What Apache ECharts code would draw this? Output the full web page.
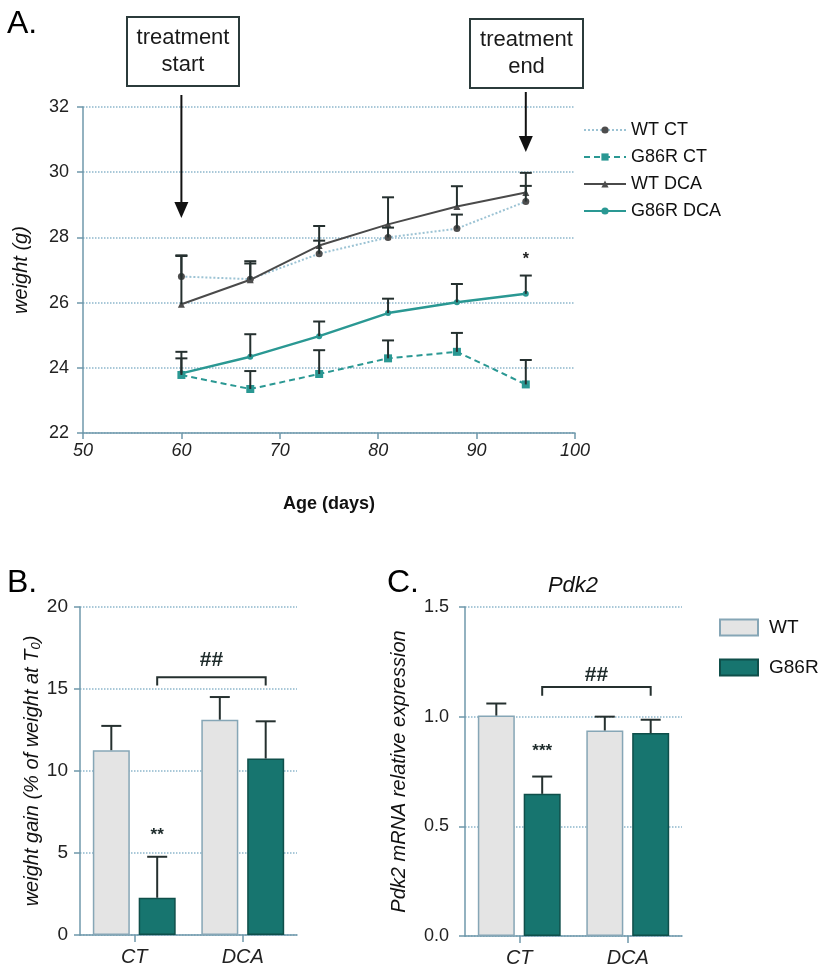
<!DOCTYPE html>
<html><head><meta charset="utf-8">
<script src="https://cdn.jsdelivr.net/npm/echarts@6/dist/echarts.min.js"></script>
<style>html,body{margin:0;padding:0;background:#fff}#c{width:824px;height:976px}</style>
</head><body><div id="c"></div>
<script>
// ---- Panel A data ----
const days = [60, 67, 74, 81, 88, 95];
const wtCT = [26.8, 26.72, 27.5, 28.0, 28.27, 29.1];
const wtCTErr = [0.65, 0.55, 0.4, 0.3, 0.43, 0.48];
const g86rCT = [23.78, 23.35, 23.81, 24.29, 24.49, 23.49];
const g86rCTErr = [0.51, 0.55, 0.73, 0.55, 0.58, 0.75];
const wtDCA = [25.95, 26.7, 27.75, 28.4, 28.95, 29.38];
const wtDCAErr = [1.48, 0.5, 0.6, 0.83, 0.62, 0.6];
const g86rDCA = [23.83, 24.34, 24.97, 25.68, 26.01, 26.27];
const g86rDCAErr = [0.66, 0.69, 0.45, 0.44, 0.56, 0.56];
const xTicksA = [50, 100, 10];
const yTicksA = [22, 32, 2];

// ---- Panel B data ----
const groups = ['CT', 'DCA'];
const wtGain = [11.27, 13.13];
const wtGainErr = [1.48, 1.38];
const g86rGain = [2.27, 10.76];
const g86rGainErr = [2.5, 2.27];

// ---- Panel C data ----
const wtPdk2 = [1.005, 0.937];
const wtPdk2Err = [0.055, 0.063];
const g86rPdk2 = [0.648, 0.925];
const g86rPdk2Err = [0.079, 0.061];

const FONT = '"Liberation Sans", Arial, Helvetica, sans-serif';
const AX = '#6f98ab';
const GRIDC = '#8db7cc';
const TEAL = '#2a9893';
const TEALBAR = '#17756f';
const DARK = '#4a4a4a';
const ERR = '#25302f';

const chart = echarts.init(document.getElementById('c'), null, {renderer: 'canvas'});

function errA(color) {
  return function (params, api) {
    const x = api.value(0), m = api.value(1), e = api.value(2);
    const p0 = api.coord([x, m]), p1 = api.coord([x, m + e]);
    return {type: 'group', children: [
      {type: 'line', shape: {x1: p0[0], y1: p0[1], x2: p1[0], y2: p1[1]}, style: {stroke: color, lineWidth: 2}},
      {type: 'line', shape: {x1: p1[0] - 6, y1: p1[1], x2: p1[0] + 6, y2: p1[1]}, style: {stroke: color, lineWidth: 2}}
    ]};
  };
}
const BARW = 37, BARGAP = 0.24;
const BAROFF = (BARW + BARW * BARGAP) / 2;
function errBar(sign) {
  return function (params, api) {
    const c = api.value(0), m = api.value(1), e = api.value(2);
    const p0 = api.coord([c, m]), p1 = api.coord([c, m + e]);
    const x = p0[0] + sign * BAROFF;
    return {type: 'group', children: [
      {type: 'line', shape: {x1: x, y1: p0[1], x2: x, y2: p1[1]}, style: {stroke: ERR, lineWidth: 2}},
      {type: 'line', shape: {x1: x - 10, y1: p1[1], x2: x + 10, y2: p1[1]}, style: {stroke: ERR, lineWidth: 2}}
    ]};
  };
}
function bracket(params, api) {
  const y = api.value(0), yEnd = api.value(1), yTxt = api.value(2);
  const a = api.coord([0, y]), b = api.coord([1, y]), e = api.coord([0, yEnd]), t = api.coord([0, yTxt]);
  const x1 = a[0] + BAROFF, x2 = b[0] + BAROFF;
  return {type: 'group', children: [
    {type: 'polyline', shape: {points: [[x1, e[1]], [x1, a[1]], [x2, a[1]], [x2, e[1]]]}, style: {stroke: ERR, lineWidth: 2, fill: null}},
    {type: 'text', style: {text: '##', x: (x1 + x2) / 2, y: t[1], align: 'center', verticalAlign: 'middle', font: 'bold 21px ' + FONT, fill: '#1d2a2a'}}
  ]};
}
function sigText(sign, size) {
  return function (params, api) {
    const p = api.coord([api.value(0), api.value(1)]);
    return {type: 'text', style: {text: params.dataIndex === 0 ? api.value(2) : '', x: p[0] + sign * BAROFF, y: p[1], align: 'center', verticalAlign: 'middle', font: 'bold ' + size + 'px ' + FONT, fill: '#1d2a2a'}};
  };
}

const axisLine = {show: true, lineStyle: {color: AX, width: 1.5}};
const axisTick = {show: true, length: 6, lineStyle: {color: AX, width: 1.5}};
const splitLine = {show: true, lineStyle: {color: GRIDC, type: 'dotted', width: 1.5}};

const option = {
  animation: false,
  backgroundColor: '#fff',
  textStyle: {fontFamily: FONT},
  grid: [
    {left: 83, top: 107, width: 492, height: 326},
    {left: 80, top: 607, width: 217, height: 328},
    {left: 465, top: 607, width: 217, height: 329}
  ],
  legend: [
    {
      data: ['WT CT', 'G86R CT', 'WT DCA', 'G86R DCA'],
      orient: 'vertical', left: 578, top: 116, itemWidth: 42, itemHeight: 9, itemGap: 9,
      textStyle: {fontSize: 18, color: '#111', fontFamily: FONT, lineHeight: 18},
      selectedMode: false
    },
    {
      data: ['WT', 'G86R'],
      orient: 'vertical', left: 714, top: 613, itemWidth: 38, itemHeight: 16, itemGap: 21,
      icon: 'rect',
      textStyle: {fontSize: 19, color: '#111', fontFamily: FONT, lineHeight: 18, padding: [0, 0, 0, 6]},
      selectedMode: false
    }
  ],
  xAxis: [
    {gridIndex: 0, type: 'value', min: xTicksA[0], max: xTicksA[1], interval: xTicksA[2],
      name: 'Age (days)', nameLocation: 'middle', nameGap: 62,
      nameTextStyle: {fontSize: 18, fontWeight: 'bold', color: '#111', fontFamily: FONT},
      axisLine, axisTick, splitLine: {show: false},
      axisLabel: {fontSize: 18, fontStyle: 'italic', color: '#222', margin: 9, fontFamily: FONT}},
    {gridIndex: 1, type: 'category', data: groups, boundaryGap: true,
      axisLine, axisTick: {show: true, alignWithLabel: true, length: 7, lineStyle: {color: AX, width: 1.5}},
      axisLabel: {fontSize: 20, fontStyle: 'italic', color: '#222', margin: 12, fontFamily: FONT}},
    {gridIndex: 2, type: 'category', data: groups, boundaryGap: true,
      axisLine, axisTick: {show: true, alignWithLabel: true, length: 7, lineStyle: {color: AX, width: 1.5}},
      axisLabel: {fontSize: 20, fontStyle: 'italic', color: '#222', margin: 12, fontFamily: FONT}}
  ],
  yAxis: [
    {gridIndex: 0, type: 'value', min: yTicksA[0], max: yTicksA[1], interval: yTicksA[2],
      name: 'weight (g)', nameLocation: 'middle', nameGap: 52,
      nameTextStyle: {fontSize: 20, fontStyle: 'italic', color: '#111', fontFamily: FONT},
      axisLine, axisTick, splitLine,
      axisLabel: {fontSize: 18, color: '#222', margin: 14, fontFamily: FONT}},
    {gridIndex: 1, type: 'value', min: 0, max: 20, interval: 5,
      name: '{a|weight gain (% of weight at T}{s|0}{a|)}', nameLocation: 'middle', nameGap: 36,
      nameTextStyle: {fontSize: 20, fontStyle: 'italic', color: '#111', fontFamily: FONT,
        rich: {a: {fontSize: 20, fontStyle: 'italic', color: '#111', fontFamily: FONT},
               s: {fontSize: 13, fontStyle: 'italic', color: '#111', fontFamily: FONT, padding: [8, 0, 0, 0]}}},
      axisLine, axisTick, splitLine,
      axisLabel: {fontSize: 19, color: '#222', margin: 12, fontFamily: FONT}},
    {gridIndex: 2, type: 'value', min: 0, max: 1.5, interval: 0.5,
      name: 'Pdk2 mRNA relative expression', nameLocation: 'middle', nameGap: 56,
      nameTextStyle: {fontSize: 20, fontStyle: 'italic', color: '#111', fontFamily: FONT},
      axisLine, axisTick, splitLine,
      axisLabel: {fontSize: 18, color: '#222', margin: 16, fontFamily: FONT, formatter: v => v.toFixed(1)}}
  ],
  series: [
    // Panel A lines
    {name: 'WT CT', type: 'line', xAxisIndex: 0, yAxisIndex: 0, data: days.map((d, i) => [d, wtCT[i]]),
      symbol: 'circle', symbolSize: 7, itemStyle: {color: '#4d4d4d'},
      lineStyle: {color: '#9cc3d4', width: 2, type: 'dotted'}, z: 3},
    {name: 'G86R CT', type: 'line', xAxisIndex: 0, yAxisIndex: 0, data: days.map((d, i) => [d, g86rCT[i]]),
      symbol: 'rect', symbolSize: 8, itemStyle: {color: TEAL},
      lineStyle: {color: TEAL, width: 2, type: [6, 4]}, z: 3},
    {name: 'WT DCA', type: 'line', xAxisIndex: 0, yAxisIndex: 0, data: days.map((d, i) => [d, wtDCA[i]]),
      symbol: 'triangle', symbolSize: 7, itemStyle: {color: '#4d4d4d'},
      lineStyle: {color: DARK, width: 2}, z: 4},
    {name: 'G86R DCA', type: 'line', xAxisIndex: 0, yAxisIndex: 0, data: days.map((d, i) => [d, g86rDCA[i]]),
      symbol: 'circle', symbolSize: 6, itemStyle: {color: TEAL},
      lineStyle: {color: TEAL, width: 2.4}, z: 4},
    // Panel A error bars
    {type: 'custom', xAxisIndex: 0, yAxisIndex: 0, renderItem: errA(ERR), z: 5, data: days.map((d, i) => [d, wtCT[i], wtCTErr[i]])},
    {type: 'custom', xAxisIndex: 0, yAxisIndex: 0, renderItem: errA(ERR), z: 5, data: days.map((d, i) => [d, g86rCT[i], g86rCTErr[i]])},
    {type: 'custom', xAxisIndex: 0, yAxisIndex: 0, renderItem: errA(ERR), z: 5, data: days.map((d, i) => [d, wtDCA[i], wtDCAErr[i]])},
    {type: 'custom', xAxisIndex: 0, yAxisIndex: 0, renderItem: errA(ERR), z: 5, data: days.map((d, i) => [d, g86rDCA[i], g86rDCAErr[i]])},
    {type: 'custom', xAxisIndex: 0, yAxisIndex: 0, z: 6, data: [[95, 27.42, '*']],
      renderItem: (params, api) => {
        const p = api.coord([api.value(0), api.value(1)]);
        return {type: 'text', style: {text: '*', x: p[0], y: p[1] + 3, align: 'center', verticalAlign: 'middle', font: 'bold 16px ' + FONT, fill: '#222'}};
      }},
    // Panel B bars
    {name: 'WT', type: 'bar', xAxisIndex: 1, yAxisIndex: 1, data: wtGain, barWidth: BARW, barGap: '24%',
      itemStyle: {color: '#e4e4e4', borderColor: '#86a6b6', borderWidth: 1.5}},
    {name: 'G86R', type: 'bar', xAxisIndex: 1, yAxisIndex: 1, data: g86rGain, barWidth: BARW, barGap: '24%',
      itemStyle: {color: TEALBAR, borderColor: '#0f4f4a', borderWidth: 1.5}},
    {type: 'custom', xAxisIndex: 1, yAxisIndex: 1, renderItem: errBar(-1), z: 5, data: groups.map((g, i) => [i, wtGain[i], wtGainErr[i]])},
    {type: 'custom', xAxisIndex: 1, yAxisIndex: 1, renderItem: errBar(1), z: 5, data: groups.map((g, i) => [i, g86rGain[i], g86rGainErr[i]])},
    {type: 'custom', xAxisIndex: 1, yAxisIndex: 1, renderItem: bracket, z: 5, data: [[15.72, 15.22, 16.75]]},
    {type: 'custom', xAxisIndex: 1, yAxisIndex: 1, renderItem: sigText(1, 17), z: 5, data: [[0, 6.05, '**']]},
    // Panel C bars
    {name: 'WT', type: 'bar', xAxisIndex: 2, yAxisIndex: 2, data: wtPdk2, barWidth: BARW, barGap: '24%',
      itemStyle: {color: '#e4e4e4', borderColor: '#86a6b6', borderWidth: 1.5}},
    {name: 'G86R', type: 'bar', xAxisIndex: 2, yAxisIndex: 2, data: g86rPdk2, barWidth: BARW, barGap: '24%',
      itemStyle: {color: TEALBAR, borderColor: '#0f4f4a', borderWidth: 1.5}},
    {type: 'custom', xAxisIndex: 2, yAxisIndex: 2, renderItem: errBar(-1), z: 5, data: groups.map((g, i) => [i, wtPdk2[i], wtPdk2Err[i]])},
    {type: 'custom', xAxisIndex: 2, yAxisIndex: 2, renderItem: errBar(1), z: 5, data: groups.map((g, i) => [i, g86rPdk2[i], g86rPdk2Err[i]])},
    {type: 'custom', xAxisIndex: 2, yAxisIndex: 2, renderItem: bracket, z: 5, data: [[1.135, 1.095, 1.19]]},
    {type: 'custom', xAxisIndex: 2, yAxisIndex: 2, renderItem: sigText(1, 17), z: 5, data: [[0, 0.84, '***']]}
  ]
};
chart.setOption(option);

// annotations: treatment boxes and arrows aligned to the data x positions
const pS = chart.convertToPixel({gridIndex: 0}, [60, 32]);
const pE = chart.convertToPixel({gridIndex: 0}, [95, 32]);
function arrow(x, y1, y2) {
  return [
    {type: 'line', shape: {x1: x, y1: y1, x2: x, y2: y2 - 14}, style: {stroke: '#111', lineWidth: 2}},
    {type: 'polygon', shape: {points: [[x - 7, y2 - 16], [x + 7, y2 - 16], [x, y2]]}, style: {fill: '#111'}}
  ];
}
function box(x, y, w, h, l1, l2) {
  return [
    {type: 'rect', shape: {x: x, y: y, width: w, height: h}, style: {fill: '#fff', stroke: '#2b3b3b', lineWidth: 2}},
    {type: 'text', style: {text: l1 + '\n' + l2, x: x + w / 2, y: y + h / 2, align: 'center', verticalAlign: 'middle', font: '22px ' + FONT, lineHeight: 27, fill: '#1a1a1a'}}
  ];
}
chart.setOption({
  graphic: [
    {type: 'text', left: 7, top: 8, style: {text: 'A.', font: '32px ' + FONT, fill: '#000'}},
    {type: 'text', left: 7, top: 567, style: {text: 'B.', font: '32px ' + FONT, fill: '#000'}},
    {type: 'text', left: 387, top: 567, style: {text: 'C.', font: '32px ' + FONT, fill: '#000'}},
    {type: 'text', style: {text: 'Pdk2', x: 573, y: 586, align: 'center', verticalAlign: 'middle', font: 'italic 22px ' + FONT, fill: '#111'}},
    ...box(127, 17, 112, 69, 'treatment', 'start'),
    ...box(470, 19, 113, 69, 'treatment', 'end'),
    ...arrow(pS[0], 95, 218),
    ...arrow(pE[0], 92, 152)
  ]
});
</script>
</body></html>
